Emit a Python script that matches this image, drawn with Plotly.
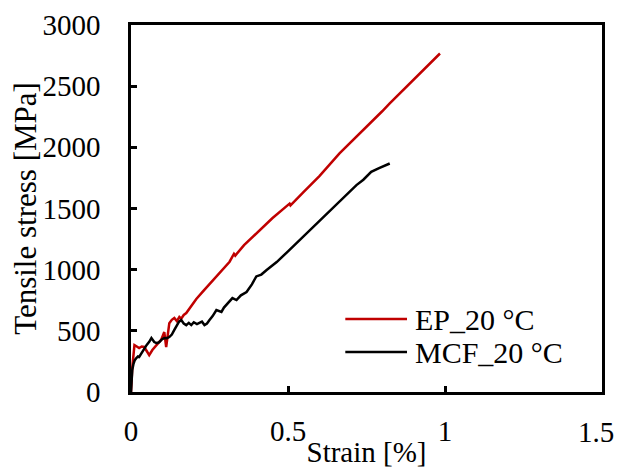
import plotly.graph_objects as go

# EP_20 °C (red)
ep_strain = [0, 0.004, 0.011, 0.018, 0.026, 0.034, 0.042, 0.05, 0.058, 0.068, 0.08, 0.09, 0.096,
             0.106, 0.112, 0.122, 0.13, 0.138, 0.146, 0.154, 0.16, 0.168, 0.176, 0.19, 0.208, 0.23,
             0.25, 0.28, 0.314, 0.328, 0.332, 0.36, 0.4, 0.45, 0.505, 0.508, 0.55, 0.6, 0.664, 0.7,
             0.744, 0.8, 0.824, 0.86, 0.904, 0.95, 0.984]
ep_stress = [0, 200, 384, 370, 360, 372, 368, 335, 302, 343, 384, 410, 425,
             490, 368, 563, 590, 605, 580, 613, 600, 630, 645, 700, 760, 825,
             880, 970, 1065, 1130, 1115, 1200, 1300, 1420, 1540, 1525, 1635, 1765, 1950, 2040,
             2154, 2295, 2359, 2450, 2563, 2680, 2767]

# MCF_20 °C (black)
mcf_strain = [0, 0.002, 0.004, 0.008, 0.012, 0.017, 0.022, 0.026, 0.034, 0.042, 0.05, 0.058, 0.065,
              0.074, 0.082, 0.09, 0.098, 0.106, 0.114, 0.122, 0.13, 0.138, 0.146, 0.153, 0.16, 0.168,
              0.176, 0.184, 0.192, 0.2, 0.21, 0.218, 0.226, 0.234, 0.242, 0.25, 0.26, 0.272, 0.28,
              0.288, 0.296, 0.304, 0.323, 0.336, 0.35, 0.368, 0.385, 0.399, 0.415, 0.432, 0.464, 0.5,
              0.53, 0.569, 0.607, 0.65, 0.696, 0.718, 0.74, 0.765, 0.79, 0.81, 0.824]
mcf_stress = [0, 90, 180, 230, 260, 278, 290, 286, 320, 360, 385, 410, 441,
              408, 400, 408, 430, 441, 440, 449, 470, 507, 540, 575, 588, 560,
              547, 565, 547, 570, 555, 563, 575, 547, 560, 588, 620, 670, 660,
              654, 690, 711, 768, 752, 790, 817, 880, 945, 960, 997, 1062, 1150,
              1225, 1324, 1413, 1520, 1637, 1691, 1735, 1800, 1830, 1850, 1868]

series_names = ["EP_20 °C", "MCF_20 °C"]
series_colors = ["#C00000", "#000000"]

x_ticks = [0, 0.5, 1, 1.5]
x_tick_labels = ["0", "0.5", "1", ""]   # last label drawn as annotation so it stays inside the page
last_x_label = "1.5"
y_ticks = [0, 500, 1000, 1500, 2000, 2500, 3000]

FONT = "Liberation Serif, Times New Roman, serif"
FS = 29

fig = go.Figure()
fig.add_trace(go.Scatter(x=ep_strain, y=ep_stress, mode="lines", name=series_names[0],
                         line=dict(color=series_colors[0], width=2.5), showlegend=False))
fig.add_trace(go.Scatter(x=mcf_strain, y=mcf_stress, mode="lines", name=series_names[1],
                         line=dict(color=series_colors[1], width=2.5), showlegend=False))

axis_common = dict(showgrid=False, zeroline=False, showline=True, linecolor="black",
                   linewidth=2.5, mirror=True, ticks="inside", ticklen=6, tickwidth=2.5,
                   tickcolor="black", tickfont=dict(family=FONT, size=FS, color="black"),
                   ticklabeloverflow="allow")

fig.update_xaxes(range=[0, 1.5], tickvals=x_ticks, ticktext=x_tick_labels,
                 title=dict(text="Strain [%]", font=dict(family=FONT, size=FS, color="black")),
                 ticklabelstandoff=11, **axis_common)
fig.update_yaxes(range=[0, 3000], tickvals=y_ticks,
                 title=dict(text="Tensile stress [MPa]", font=dict(family=FONT, size=31, color="black"),
                            standoff=0),
                 ticklabelstandoff=22, **axis_common)

# last x tick label
fig.add_annotation(x=x_ticks[-1], y=0, xref="x", yref="y", text=last_x_label, showarrow=False,
                   xanchor="center", yanchor="middle", xshift=-6, yshift=-40,
                   font=dict(family=FONT, size=FS, color="black"))

# legend (lines + labels) in paper coordinates
legend_y = [0.199, 0.109]
for name, color, ly in zip(series_names, series_colors, legend_y):
    fig.add_shape(type="line", xref="paper", yref="paper", x0=0.455, x1=0.586, y0=ly, y1=ly,
                  line=dict(color=color, width=2.5))
    fig.add_annotation(x=0.598, y=ly, xref="paper", yref="paper", text=name, showarrow=False,
                       xanchor="left", yanchor="middle", yshift=-1,
                       font=dict(family=FONT, size=30, color="black"))

fig.update_layout(
    width=615, height=460,
    margin=dict(l=123, r=21, t=17, b=76, autoexpand=False),
    plot_bgcolor="white", paper_bgcolor="white",
    showlegend=False,
)

fig.write_html("out.html")
